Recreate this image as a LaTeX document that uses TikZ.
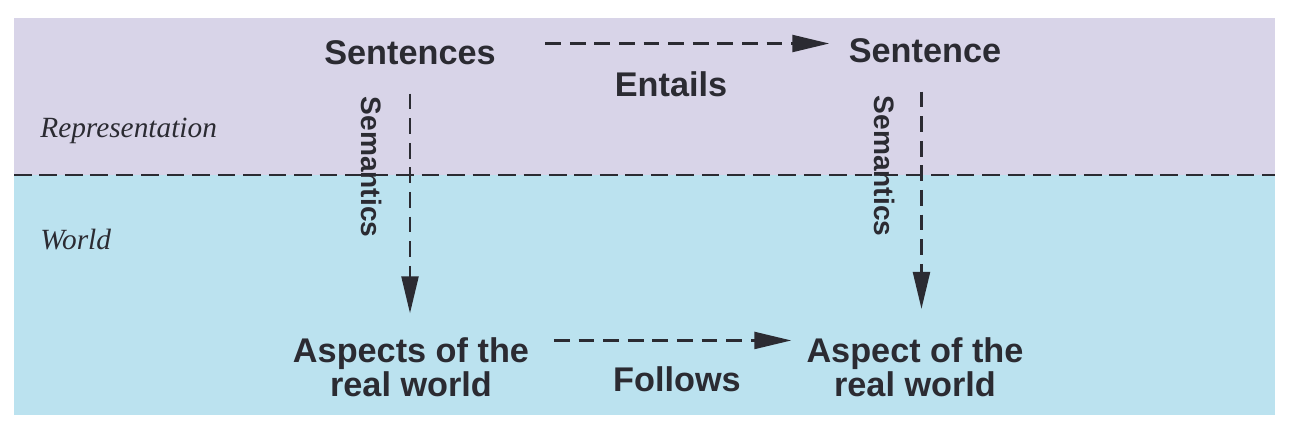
\documentclass[tikz,border=0pt]{standalone}
\usepackage{fontspec}
\setmainfont{Liberation Serif}
\setsansfont{Liberation Sans}
\usetikzlibrary{arrows.meta}
\definecolor{repcolor}{RGB}{216,212,232}
\definecolor{worldcolor}{RGB}{187,226,239}
\definecolor{inkcolor}{RGB}{43,43,50}
\tikzset{
  term/.style={font=\sffamily\bfseries\fontsize{19.5}{19.5}\selectfont,text=inkcolor,align=center,inner sep=0pt},
  semlabel/.style={font=\sffamily\bfseries\fontsize{16}{18}\selectfont,text=inkcolor,rotate=-90,inner sep=0pt},
  layer/.style={font=\itshape\fontsize{16.7}{19}\selectfont,text=inkcolor,anchor=base west,inner sep=0pt},
  dasharrow/.style={draw=inkcolor,line width=1.2pt,dash pattern=on 9pt off 5pt,-{Triangle[length=21pt,width=9.7pt]}}
}
\begin{document}
\begin{tikzpicture}[x=0.02cm,y=-0.02cm]
\useasboundingbox (0,0) rectangle (1289,440);
\fill[repcolor] (14,18) rectangle (1275,175);
\fill[worldcolor] (14,175) rectangle (1275,415);
\draw[inkcolor,line width=1.2pt,dash pattern=on 10pt off 4.5pt] (14,175) -- (1275,175);
\node[layer] (rep) at (40,137){Representation};
\node[layer] (world) at (40,249){World};
\node[term] (sentences) at (410,53){Sentences};
\node[term] (sentence) at (925,51){Sentence};
\node[term] (entails) at (671,84){Entails};
\node[term] (aspects) at (411,367){Aspects of the\\real world};
\node[term] (aspect) at (915,367){Aspect of the\\real world};
\node[term] (follows) at (677,379){Follows};
\node[semlabel] (semleft) at (372,167){Semantics};
\node[semlabel] (semright) at (885,166){Semantics};
\draw[dasharrow,shorten <=28pt,shorten >=11pt] ([yshift=-1.7pt]sentences.north east) -- ([yshift=-1.7pt]sentences.north east -| sentence.west);
\draw[dasharrow,shorten <=14pt,shorten >=8.5pt] ([yshift=-2pt]aspects.north east) -- ([yshift=-2pt]aspects.north east -| aspect.west);
\draw[dasharrow,shorten <=16pt,shorten >=13.5pt] (sentences.south) -- (sentences.south |- aspects.north);
\draw[dasharrow,shorten <=16pt,shorten >=16pt] ([xshift=-2pt]sentence.south) -- ([xshift=-2pt]sentence.south |- aspect.north);
\end{tikzpicture}
\end{document}
